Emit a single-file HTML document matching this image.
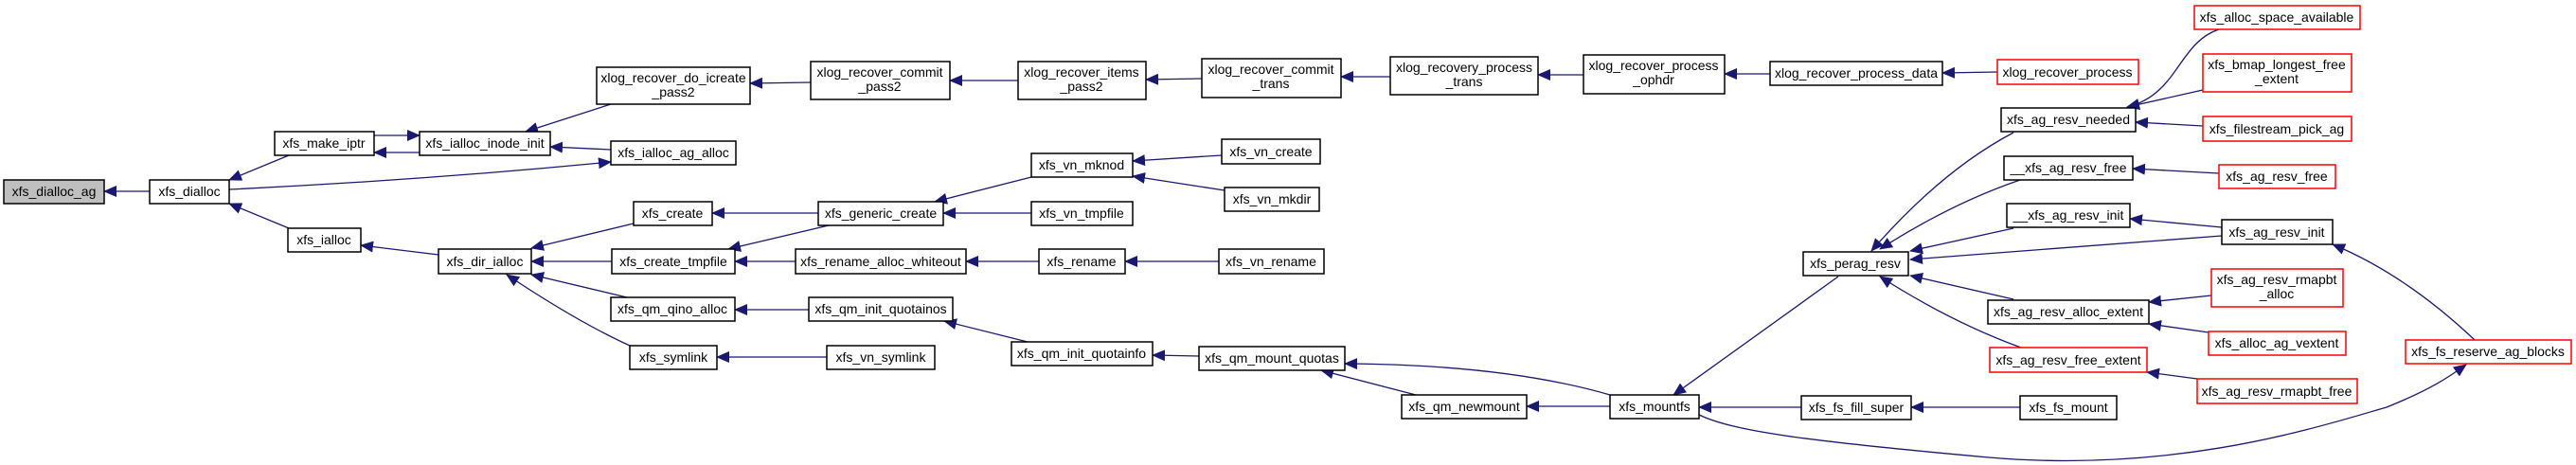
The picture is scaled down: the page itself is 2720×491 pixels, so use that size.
<!DOCTYPE html>
<html><head><meta charset="utf-8"><style>
html,body{margin:0;padding:0;background:#fff;}
svg{display:block;}
text{font-family:"Liberation Sans",Arial,sans-serif;font-size:14px;fill:#000;text-anchor:middle;}
.n{fill:#fff;stroke:#000;stroke-width:1.5;}
.r{fill:#fff;stroke:#ff0000;stroke-width:1.5;}
.e{fill:none;stroke:#191970;stroke-width:1.3;}
</style></head><body>
<svg width="2720" height="491" viewBox="0 0 2720 491" xmlns="http://www.w3.org/2000/svg">
<defs><marker id="a" markerUnits="userSpaceOnUse" markerWidth="14" markerHeight="12" refX="13" refY="6" orient="auto"><path d="M0,0 L14,6 L0,12 z" fill="#191970"/></marker></defs>
<g marker-end="url(#a)" class="e">
<path class="e" d="M158,202 L110,202"/>
<path class="e" d="M305,164 L242,190"/>
<path class="e" d="M305,241 L242,215"/>
<path class="e" d="M242,200 Q450,190 645,171"/>
<path class="e" d="M395,143 L443,143"/>
<path class="e" d="M443,161 L395,161"/>
<path class="e" d="M645,110 L555,139"/>
<path class="e" d="M645,158 L581,155"/>
<path class="e" d="M463,269 L381,259"/>
<path class="e" d="M669,236 L561,262"/>
<path class="e" d="M646,276 L561,276"/>
<path class="e" d="M662,314 L561,290"/>
<path class="e" d="M665,365 Q610,340 535,290"/>
<path class="e" d="M856,87 L792,88"/>
<path class="e" d="M1075,85 L1003,85"/>
<path class="e" d="M1269,83 L1210,84"/>
<path class="e" d="M1468,81 L1416,81"/>
<path class="e" d="M1672,79 L1624,79"/>
<path class="e" d="M1869,78 L1821,78"/>
<path class="e" d="M2109,76 L2051,77"/>
<path class="e" d="M864,225 L752,225"/>
<path class="e" d="M875,238 L769,263"/>
<path class="e" d="M1089,187 L987,213"/>
<path class="e" d="M1089,225 L996,225"/>
<path class="e" d="M1290,164 L1196,170"/>
<path class="e" d="M1293,201 L1196,186"/>
<path class="e" d="M840,276 L776,276"/>
<path class="e" d="M1097,276 L1020,276"/>
<path class="e" d="M1287,276 L1188,276"/>
<path class="e" d="M854,327 L776,327"/>
<path class="e" d="M873,377 L757,377"/>
<path class="e" d="M1085,361 L997,339"/>
<path class="e" d="M1266,376 L1217,375"/>
<path class="e" d="M1495,417 L1395,391"/>
<path class="e" d="M1700,417 Q1590,385 1420,384"/>
<path class="e" d="M1700,429 L1612,429"/>
<path class="e" d="M1941,292 L1767,417"/>
<path class="e" d="M1902,430 L1794,430"/>
<path class="e" d="M2133,430 L2018,430"/>
<path class="e" d="M1794,438 C1830,455 1900,465 2100,483 C2300,500 2450,450 2520,430 C2570,410 2590,395 2604,385"/>
<path class="e" d="M2126,140 Q2050,180 1976,265"/>
<path class="e" d="M2133,190 Q2060,215 1985,263"/>
<path class="e" d="M2126,241 L2017,265"/>
<path class="e" d="M2346,249 L2017,274"/>
<path class="e" d="M2126,316 L2017,291"/>
<path class="e" d="M2134,367 Q2060,340 1985,292"/>
<path class="e" d="M2343,31 C2300,45 2300,100 2246,113"/>
<path class="e" d="M2326,95 L2246,113"/>
<path class="e" d="M2326,133 L2255,129"/>
<path class="e" d="M2343,183 L2252,178"/>
<path class="e" d="M2346,240 L2249,231"/>
<path class="e" d="M2335,312 L2269,319"/>
<path class="e" d="M2332,351 L2269,342"/>
<path class="e" d="M2320,400 L2267,393"/>
<path class="e" d="M2613,359 Q2540,290 2463,258"/>
</g>
<rect x="4" y="190" width="106" height="25" fill="#bfbfbf" stroke="#000" stroke-width="1.5"/><text x="57" y="207">xfs_dialloc_ag</text>
<rect class="n" x="158" y="190" width="84" height="25"/><text x="200" y="207">xfs_dialloc</text>
<rect class="n" x="290" y="139" width="105" height="25"/><text x="342" y="156">xfs_make_iptr</text>
<rect class="n" x="443" y="139" width="138" height="25"/><text x="512" y="156">xfs_ialloc_inode_init</text>
<rect class="n" x="630" y="71" width="162" height="39"/><text x="711" y="87">xlog_recover_do_icreate</text><text x="711" y="102">_pass2</text>
<rect class="n" x="645" y="149" width="132" height="25"/><text x="711" y="166">xfs_ialloc_ag_alloc</text>
<rect class="n" x="304" y="241" width="77" height="25"/><text x="342" y="258">xfs_ialloc</text>
<rect class="n" x="463" y="263" width="98" height="26"/><text x="512" y="281">xfs_dir_ialloc</text>
<rect class="n" x="669" y="213" width="83" height="25"/><text x="710" y="230">xfs_create</text>
<rect class="n" x="646" y="263" width="130" height="26"/><text x="711" y="281">xfs_create_tmpfile</text>
<rect class="n" x="645" y="314" width="131" height="25"/><text x="710" y="331">xfs_qm_qino_alloc</text>
<rect class="n" x="665" y="365" width="92" height="25"/><text x="711" y="382">xfs_symlink</text>
<rect class="n" x="856" y="65" width="147" height="40"/><text x="929" y="81">xlog_recover_commit</text><text x="929" y="96">_pass2</text>
<rect class="n" x="864" y="213" width="132" height="25"/><text x="930" y="230">xfs_generic_create</text>
<rect class="n" x="840" y="263" width="180" height="26"/><text x="930" y="281">xfs_rename_alloc_whiteout</text>
<rect class="n" x="854" y="314" width="152" height="25"/><text x="930" y="331">xfs_qm_init_quotainos</text>
<rect class="n" x="873" y="365" width="114" height="25"/><text x="930" y="382">xfs_vn_symlink</text>
<rect class="n" x="1075" y="65" width="135" height="40"/><text x="1142" y="81">xlog_recover_items</text><text x="1142" y="96">_pass2</text>
<rect class="n" x="1269" y="62" width="147" height="41"/><text x="1342" y="78">xlog_recover_commit</text><text x="1342" y="93">_trans</text>
<rect class="n" x="1468" y="60" width="156" height="40"/><text x="1546" y="76">xlog_recovery_process</text><text x="1546" y="91">_trans</text>
<rect class="n" x="1672" y="58" width="149" height="41"/><text x="1746" y="74">xlog_recover_process</text><text x="1746" y="89">_ophdr</text>
<rect class="n" x="1089" y="162" width="107" height="25"/><text x="1142" y="179">xfs_vn_mknod</text>
<rect class="n" x="1290" y="147" width="104" height="26"/><text x="1342" y="165">xfs_vn_create</text>
<rect class="n" x="1293" y="198" width="100" height="25"/><text x="1343" y="215">xfs_vn_mkdir</text>
<rect class="n" x="1089" y="213" width="107" height="25"/><text x="1142" y="230">xfs_vn_tmpfile</text>
<rect class="n" x="1097" y="263" width="91" height="26"/><text x="1142" y="281">xfs_rename</text>
<rect class="n" x="1287" y="263" width="111" height="26"/><text x="1342" y="281">xfs_vn_rename</text>
<rect class="n" x="1068" y="361" width="149" height="25"/><text x="1142" y="378">xfs_qm_init_quotainfo</text>
<rect class="n" x="1266" y="366" width="154" height="25"/><text x="1343" y="383">xfs_qm_mount_quotas</text>
<rect class="n" x="1480" y="417" width="132" height="25"/><text x="1546" y="434">xfs_qm_newmount</text>
<rect class="n" x="1700" y="417" width="94" height="25"/><text x="1747" y="434">xfs_mountfs</text>
<rect class="n" x="1869" y="65" width="182" height="25"/><text x="1960" y="82">xlog_recover_process_data</text>
<rect class="r" x="2109" y="63" width="149" height="26"/><text x="2183" y="81">xlog_recover_process</text>
<rect class="r" x="2317" y="6" width="175" height="25"/><text x="2404" y="23">xfs_alloc_space_available</text>
<rect class="r" x="2326" y="57" width="157" height="40"/><text x="2404" y="73">xfs_bmap_longest_free</text><text x="2404" y="88">_extent</text>
<rect class="n" x="2113" y="114" width="142" height="25"/><text x="2184" y="131">xfs_ag_resv_needed</text>
<rect class="r" x="2326" y="123" width="157" height="26"/><text x="2404" y="141">xfs_filestream_pick_ag</text>
<rect class="n" x="2116" y="165" width="136" height="25"/><text x="2184" y="182">__xfs_ag_resv_free</text>
<rect class="r" x="2343" y="174" width="123" height="25"/><text x="2404" y="191">xfs_ag_resv_free</text>
<rect class="n" x="2119" y="215" width="130" height="25"/><text x="2184" y="232">__xfs_ag_resv_init</text>
<rect class="n" x="2346" y="232" width="117" height="26"/><text x="2404" y="250">xfs_ag_resv_init</text>
<rect class="n" x="1904" y="266" width="111" height="25"/><text x="1959" y="283">xfs_perag_resv</text>
<rect class="r" x="2335" y="284" width="139" height="40"/><text x="2404" y="300">xfs_ag_resv_rmapbt</text><text x="2404" y="315">_alloc</text>
<rect class="n" x="2099" y="317" width="170" height="25"/><text x="2184" y="334">xfs_ag_resv_alloc_extent</text>
<rect class="r" x="2332" y="350" width="145" height="25"/><text x="2404" y="367">xfs_alloc_ag_vextent</text>
<rect class="r" x="2540" y="359" width="175" height="25"/><text x="2627" y="376">xfs_fs_reserve_ag_blocks</text>
<rect class="r" x="2101" y="367" width="166" height="26"/><text x="2184" y="385">xfs_ag_resv_free_extent</text>
<rect class="r" x="2320" y="400" width="169" height="26"/><text x="2404" y="418">xfs_ag_resv_rmapbt_free</text>
<rect class="n" x="1902" y="418" width="116" height="25"/><text x="1960" y="435">xfs_fs_fill_super</text>
<rect class="n" x="2133" y="418" width="102" height="25"/><text x="2184" y="435">xfs_fs_mount</text>
</svg>
</body></html>
